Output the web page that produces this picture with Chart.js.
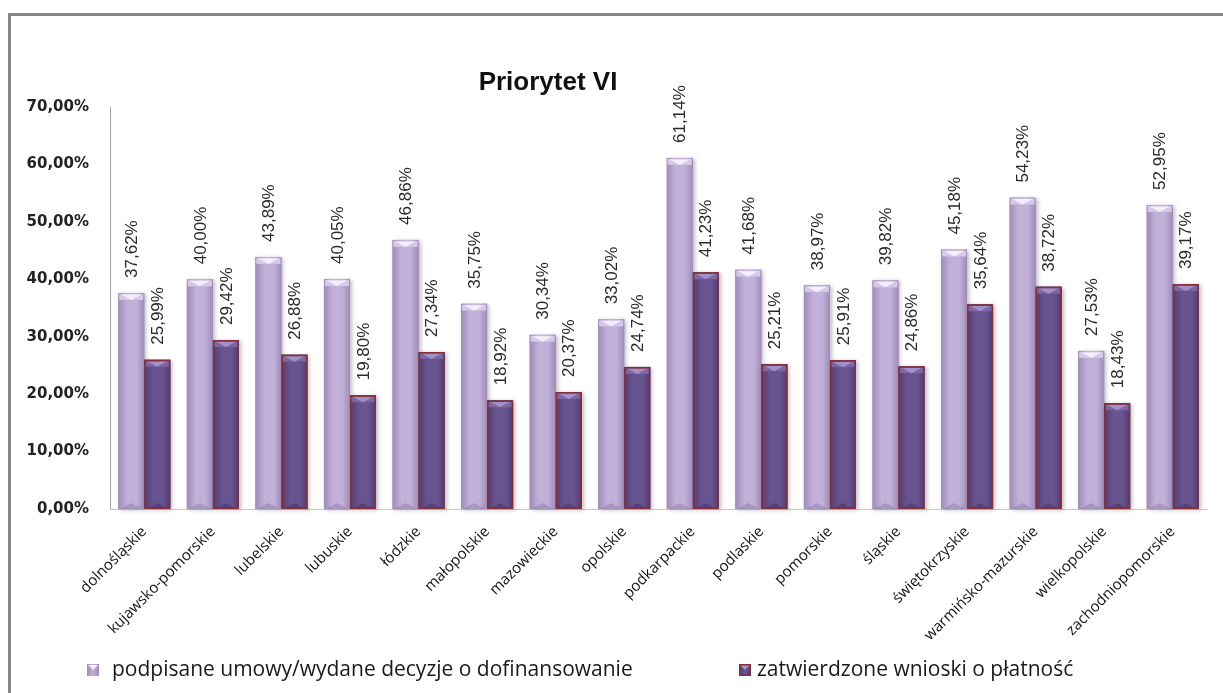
<!DOCTYPE html>
<html>
<head>
<meta charset="utf-8">
<script src="https://cdn.jsdelivr.net/npm/chart.js@4/dist/chart.umd.min.js"></script>
<style>
    html, body { margin: 0; padding: 0; background: #fff; overflow: hidden; }
    #frame {
        position: absolute; left: 8px; top: 13px; width: 1400px; height: 900px;
        border-left: 3px solid #878787; border-top: 3px solid #878787;
    }
    #wrap { position: absolute; left: 0; top: 0; width: 1223px; height: 693px; }
</style>
</head>
<body>
<div id="frame"></div>
<div id="wrap"><canvas id="chart"></canvas></div>
<script>
const chartTitle = 'Priorytet VI'

const regions = [
    'dolnośląskie', 'kujawsko-pomorskie', 'lubelskie', 'lubuskie', 'łódzkie',
    'małopolskie', 'mazowieckie', 'opolskie', 'podkarpackie', 'podlaskie',
    'pomorskie', 'śląskie', 'świętokrzyskie', 'warmińsko-mazurskie',
    'wielkopolskie', 'zachodniopomorskie'
]

const seriesNames = [
    'podpisane umowy/wydane decyzje o dofinansowanie',
    'zatwierdzone wnioski o płatność'
]

// values in percent
const signedValues = [37.62, 40.00, 43.89, 40.05, 46.86, 35.75, 30.34, 33.02, 61.14, 41.68, 38.97, 39.82, 45.18, 54.23, 27.53, 52.95]
const approvedValues = [25.99, 29.42, 26.88, 19.80, 27.34, 18.92, 20.37, 24.74, 41.23, 25.21, 25.91, 24.86, 35.64, 38.72, 18.43, 39.17]

const yMin = 0
const yMax = 70
const yStep = 10

const fmtPct = v => v.toFixed(2).replace('.', ',') + '%'

// look of the two series: body gradient, top cap, border
const barLooks = [
    { edge: '#9f8bb9', mid: '#c1b1d8', cap: '#d6c9e8', tip: '#f4eefb', foot: 'rgba(110,90,135,0.3)', border: null },
    { edge: '#523d74', mid: '#685490', cap: '#7c67a3', tip: '#a490c8', foot: 'rgba(40,25,60,0.3)', border: '#862f37' }
]

function drawFancyBar(ctx, bar, look) {
    const x0 = bar.x - bar.width / 2
    const x1 = bar.x + bar.width / 2
    const top = bar.y
    const bottom = bar.base
    const w = x1 - x0
    const h = bottom - top
    const xc = (x0 + x1) / 2

    ctx.save()
    ctx.shadowColor = 'rgba(0,0,0,0.25)'
    ctx.shadowBlur = 4
    ctx.shadowOffsetX = 2
    ctx.shadowOffsetY = 1
    const g = ctx.createLinearGradient(x0, 0, x1, 0)
    g.addColorStop(0, look.edge)
    g.addColorStop(0.35, look.mid)
    g.addColorStop(0.7, look.mid)
    g.addColorStop(1, look.edge)
    ctx.fillStyle = g
    ctx.fillRect(x0, top, w, h)
    ctx.restore()

    ctx.save()
    // top bevel
    ctx.fillStyle = look.cap
    ctx.fillRect(x0 + 1, top + 1, w - 2, 6)
    ctx.fillStyle = look.tip
    ctx.beginPath()
    ctx.moveTo(x0 + 3, top + 1.5)
    ctx.lineTo(x1 - 3, top + 1.5)
    ctx.lineTo(xc, top + 7)
    ctx.closePath()
    ctx.fill()
    // bottom bevel
    ctx.fillStyle = look.foot
    ctx.beginPath()
    ctx.moveTo(x0 + 2, bottom)
    ctx.lineTo(x1 - 2, bottom)
    ctx.lineTo(xc, bottom - 6)
    ctx.closePath()
    ctx.fill()
    if (look.border) {
        ctx.strokeStyle = look.border
        ctx.lineWidth = 1.6
        ctx.strokeRect(x0 + 0.8, top + 0.8, w - 1.6, h - 1.6)
    }
    ctx.restore()
}

const decorPlugin = {
    id: 'decor',
    afterDatasetsDraw(chart) {
        const ctx = chart.ctx
        chart.data.datasets.forEach((ds, di) => {
            const meta = chart.getDatasetMeta(di)
            meta.data.forEach(bar => drawFancyBar(ctx, bar, barLooks[di]))
        })
        // value labels, rotated
        ctx.save()
        ctx.fillStyle = '#2a2a2a'
        ctx.font = '17px "Liberation Sans", Arial, sans-serif'
        ctx.textAlign = 'left'
        ctx.textBaseline = 'middle'
        chart.data.datasets.forEach((ds, di) => {
            const meta = chart.getDatasetMeta(di)
            meta.data.forEach((bar, i) => {
                ctx.save()
                ctx.translate(bar.x + 1, bar.y - 15)
                ctx.rotate(-Math.PI / 2)
                ctx.fillText(fmtPct(ds.data[i]), 0, 0)
                ctx.restore()
            })
        })
        ctx.restore()
    },
    afterDraw(chart) {
        const ctx = chart.ctx
        // title
        ctx.save()
        ctx.fillStyle = '#111'
        ctx.font = 'bold 26px "Liberation Sans", Arial, sans-serif'
        ctx.textAlign = 'center'
        ctx.textBaseline = 'alphabetic'
        ctx.fillText(chartTitle, 548, 90)
        ctx.restore()

        // legend
        const boxX = [87, 739]
        const textX = [112, 757]
        const legendY = 670
        ctx.save()
        ctx.font = '21px "Open Sans", sans-serif'
        ctx.textBaseline = 'middle'
        ctx.textAlign = 'left'
        chart.data.datasets.forEach((ds, di) => {
            const look = barLooks[di]
            const bx = boxX[di]
            const s = 12
            const by = legendY - s / 2
            const g = ctx.createLinearGradient(bx, 0, bx + s, 0)
            g.addColorStop(0, look.edge)
            g.addColorStop(0.5, look.mid)
            g.addColorStop(1, look.edge)
            ctx.fillStyle = g
            ctx.fillRect(bx, by, s, s)
            ctx.fillStyle = look.tip
            ctx.beginPath()
            ctx.moveTo(bx + 1, by + 1)
            ctx.lineTo(bx + s - 1, by + 1)
            ctx.lineTo(bx + s / 2, by + s / 2)
            ctx.closePath()
            ctx.fill()
            if (look.border) {
                ctx.strokeStyle = look.border
                ctx.lineWidth = 1.5
                ctx.strokeRect(bx + 0.75, by + 0.75, s - 1.5, s - 1.5)
            }
            ctx.fillStyle = '#1a1a1a'
            ctx.fillText(ds.label, textX[di], legendY)
        })
        ctx.restore()
    }
}

const chart = new Chart(document.getElementById('chart').getContext('2d'), {
    type: 'bar',
    data: {
        labels: regions,
        datasets: [
            {
                label: seriesNames[0],
                data: signedValues,
                backgroundColor: barLooks[0].mid,
                borderWidth: 0
            },
            {
                label: seriesNames[1],
                data: approvedValues,
                backgroundColor: barLooks[1].mid,
                borderWidth: 0
            }
        ]
    },
    options: {
        responsive: true,
        maintainAspectRatio: false,
        animation: false,
        datasets: {
            bar: { categoryPercentage: 0.76, barPercentage: 1.0 }
        },
        layout: { padding: { top: 107, right: 16, left: 0, bottom: 0 } },
        plugins: {
            legend: { display: false },
            title: { display: false },
            tooltip: { enabled: false }
        },
        scales: {
            x: {
                grid: { display: false },
                border: { display: true, color: '#c8c8c8', width: 1 },
                ticks: {
                    color: '#111',
                    font: { family: '"Open Sans", sans-serif', size: 15 },
                    minRotation: 45,
                    maxRotation: 45,
                    autoSkip: false,
                    padding: 6
                },
                afterFit: scale => { scale.height = 184 }
            },
            y: {
                min: yMin,
                max: yMax,
                grid: { display: false },
                border: { display: true, color: '#a6a6a6', width: 1 },
                ticks: {
                    stepSize: yStep,
                    color: '#222',
                    padding: 13,
                    font: { family: '"DejaVu Sans", sans-serif', size: 15, weight: 'bold' },
                    callback: v => fmtPct(v)
                },
                afterFit: scale => { scale.width = 110 }
            }
        }
    },
    plugins: [decorPlugin]
})
</script>
</body>
</html>
